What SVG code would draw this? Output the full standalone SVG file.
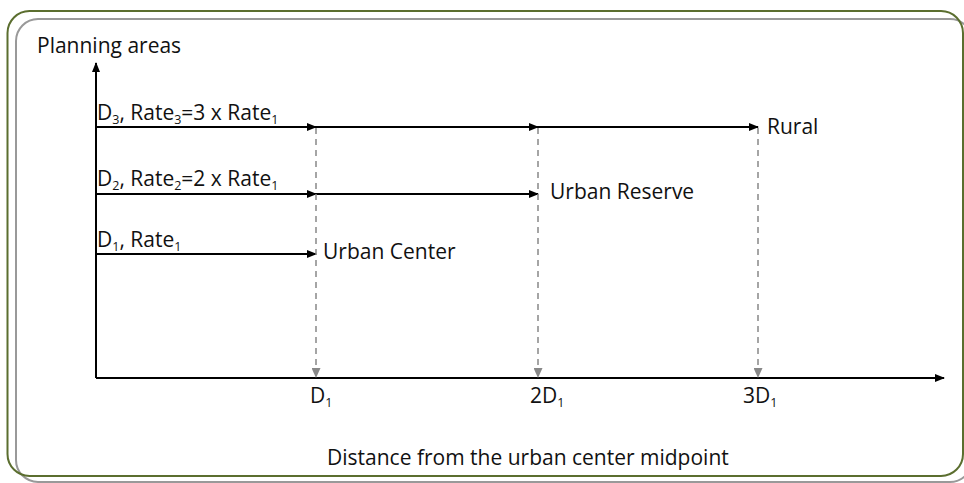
<svg xmlns="http://www.w3.org/2000/svg" width="964" height="483" viewBox="0 0 964 483">
<defs>
<style>
text{font-family:"Open Sans","Liberation Sans",sans-serif;font-size:21px;fill:#111}
.sub{font-size:12.5px}
.axis{stroke:#000;stroke-width:2;fill:none}
.flow{stroke:#000;stroke-width:2;fill:none}
.guide{stroke:#888;stroke-width:1.5;stroke-dasharray:6,5;fill:none}
</style>
<marker id="ah" markerWidth="10" markerHeight="8" refX="9" refY="4" orient="auto" markerUnits="userSpaceOnUse"><path d="M0,0L10,4L0,8z" fill="#000"/></marker>
<marker id="gh" markerWidth="10" markerHeight="9" refX="9" refY="4.5" orient="auto" markerUnits="userSpaceOnUse"><path d="M0,0L10,4.5L0,9z" fill="#888"/></marker>
</defs>
<g id="frame">
<rect x="7.5" y="11" width="955.5" height="465" rx="22" fill="#fff" stroke="none"/>
<rect x="16" y="19" width="956" height="463" rx="22" fill="none" stroke="#999" stroke-width="2"/>
<rect x="7.5" y="11" width="955.5" height="465" rx="22" fill="none" stroke="#5b6e2f" stroke-width="2"/>
</g>
<g id="connectors">
<line class="axis" x1="96" y1="378" x2="96" y2="63" marker-end="url(#ah)"/>
<line class="axis" x1="96" y1="378" x2="944" y2="378" marker-end="url(#ah)"/>
<line class="flow" x1="96" y1="127" x2="316" y2="127" marker-end="url(#ah)"/>
<line class="flow" x1="316" y1="127" x2="538" y2="127" marker-end="url(#ah)"/>
<line class="flow" x1="538" y1="127" x2="758" y2="127" marker-end="url(#ah)"/>
<line class="flow" x1="96" y1="194" x2="316" y2="194" marker-end="url(#ah)"/>
<line class="flow" x1="316" y1="194" x2="538" y2="194" marker-end="url(#ah)"/>
<line class="flow" x1="96" y1="254" x2="316" y2="254" marker-end="url(#ah)"/>
<line class="guide" x1="316" y1="128" x2="316" y2="377" marker-end="url(#gh)"/>
<line class="guide" x1="538" y1="128" x2="538" y2="377" marker-end="url(#gh)"/>
<line class="guide" x1="758" y1="128" x2="758" y2="377" marker-end="url(#gh)"/>
</g>
<g id="y-axis-label"><text x="37" y="53">Planning areas</text></g>
<g id="x-axis-label"><text x="327" y="465">Distance from the urban center midpoint</text></g>
<g id="rate3"><text x="97" y="120">D<tspan class="sub" dy="4">3</tspan><tspan dy="-4">, Rate</tspan><tspan class="sub" dy="4">3</tspan><tspan dy="-4">=3 x Rate</tspan><tspan class="sub" dy="4">1</tspan></text></g>
<g id="rate2"><text x="97" y="186">D<tspan class="sub" dy="4">2</tspan><tspan dy="-4">, Rate</tspan><tspan class="sub" dy="4">2</tspan><tspan dy="-4">=2 x Rate</tspan><tspan class="sub" dy="4">1</tspan></text></g>
<g id="rate1"><text x="97" y="247">D<tspan class="sub" dy="4">1</tspan><tspan dy="-4">, Rate</tspan><tspan class="sub" dy="4">1</tspan></text></g>
<g id="urban-center"><text x="323" y="259">Urban Center</text></g>
<g id="urban-reserve"><text x="550" y="199">Urban Reserve</text></g>
<g id="rural"><text x="767" y="134">Rural</text></g>
<g id="tick-d1"><text x="310" y="403">D<tspan class="sub" dy="4">1</tspan></text></g>
<g id="tick-2d1"><text x="530" y="403">2D<tspan class="sub" dy="4">1</tspan></text></g>
<g id="tick-3d1"><text x="743" y="403">3D<tspan class="sub" dy="4">1</tspan></text></g>
</svg>
